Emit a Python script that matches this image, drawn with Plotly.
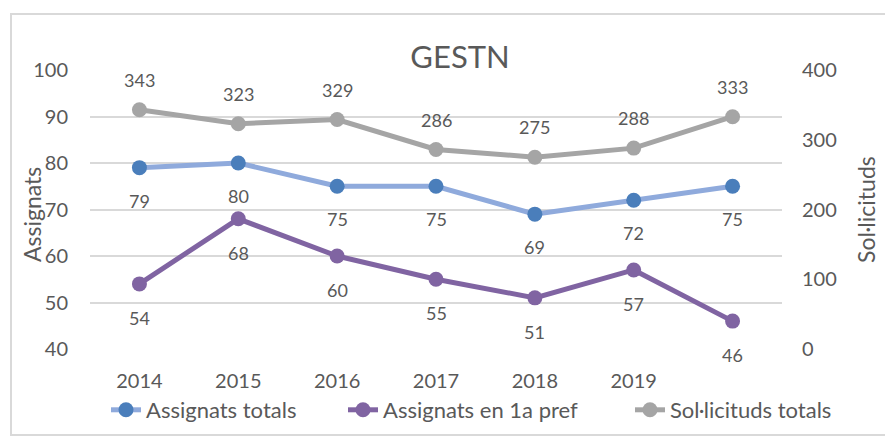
import plotly.graph_objects as go

categories = ["2014", "2015", "2016", "2017", "2018", "2019", ""]
assignats_totals = [79, 80, 75, 75, 69, 72, 75]
assignats_1a_pref = [54, 68, 60, 55, 51, 57, 46]
sollicituds_totals = [343, 323, 329, 286, 275, 288, 333]

x = list(range(len(categories)))
FONT = "Lato, 'Open Sans', sans-serif"
TXT = "#595959"

# page body has an 8px margin; lay out in figure coordinates
O = 8
W, H = 893 - O, 443 - O
L, T = 90 - O, 70 - O
R = W - (782 - O)
B = H - (349 - O)
pw, ph = W - L - R, H - T - B


def px(xi):
    return (xi - O - L) / pw


def py(yi):
    return (H - B - (yi - O)) / ph


fig = go.Figure()
fig.add_trace(go.Scatter(x=x, y=assignats_totals, name="Assignats totals", mode="lines+markers",
                         line=dict(color="#8FAADC", width=5), marker=dict(color="#4A7EBB", size=15),
                         legend="legend"))
fig.add_trace(go.Scatter(x=x, y=assignats_1a_pref, name="Assignats en 1a pref", mode="lines+markers",
                         line=dict(color="#8064A2", width=5), marker=dict(color="#8064A2", size=15),
                         legend="legend2"))
fig.add_trace(go.Scatter(x=x, y=sollicituds_totals, name="Sol·licituds totals", mode="lines+markers",
                         line=dict(color="#A5A5A5", width=5), marker=dict(color="#A5A5A5", size=15),
                         yaxis="y2", legend="legend3"))

annotations = []
for xi, v in zip(x, assignats_totals):
    annotations.append(dict(x=xi, y=v, xref="x", yref="y", text=str(v), showarrow=False, yshift=-33,
                            font=dict(size=18, color=TXT, family=FONT)))
for xi, v in zip(x, assignats_1a_pref):
    annotations.append(dict(x=xi, y=v, xref="x", yref="y", text=str(v), showarrow=False, yshift=-34,
                            font=dict(size=18, color=TXT, family=FONT)))
for xi, v in zip(x, sollicituds_totals):
    annotations.append(dict(x=xi, y=v, xref="x", yref="y2", text=str(v), showarrow=False, yshift=30,
                            font=dict(size=18, color=TXT, family=FONT)))

annotations.append(dict(text="Assignats", xref="paper", yref="paper", x=px(32), y=py(215),
                        textangle=-90, showarrow=False, xanchor="center", yanchor="middle",
                        font=dict(size=23, color=TXT, family=FONT)))
annotations.append(dict(text="Sol·licituds", xref="paper", yref="paper", x=px(866), y=py(210),
                        textangle=-90, showarrow=False, xanchor="center", yanchor="middle",
                        font=dict(size=23, color=TXT, family=FONT)))


def leg(text_start):
    return dict(orientation="h", x=px(text_start - 42), xanchor="left", y=py(410), yanchor="middle",
                font=dict(size=22, color=TXT, family=FONT), bgcolor="rgba(0,0,0,0)")


fig.update_layout(
    width=W, height=H,
    margin=dict(l=L, r=R, t=T, b=B),
    paper_bgcolor="white", plot_bgcolor="white",
    font=dict(family=FONT, color=TXT, size=20),
    title=dict(text="GESTN", x=(460 - O) / W, xanchor="center", y=1 - (57 - O) / H, yanchor="middle",
               font=dict(size=31, color=TXT, family=FONT)),
    xaxis=dict(tickmode="array", tickvals=x, ticktext=categories, range=[-0.5, 6.5],
               showgrid=False, zeroline=False, showline=False, ticks="",
               tickfont=dict(size=20, color=TXT), ticklabelstandoff=18),
    yaxis=dict(range=[40, 100], dtick=10, showgrid=True, gridcolor="#D9D9D9", gridwidth=2,
               zeroline=False, showline=False, ticks="", tickfont=dict(size=20, color=TXT),
               ticklabelstandoff=21),
    yaxis2=dict(range=[0, 400], dtick=100, overlaying="y", side="right", showgrid=False,
                zeroline=False, showline=False, ticks="", tickfont=dict(size=20, color=TXT),
                ticklabelstandoff=19),
    legend=leg(148),
    legend2=leg(385),
    legend3=leg(672),
    annotations=annotations,
    shapes=[dict(type="rect", xref="paper", yref="paper",
                 x0=px(11), x1=px(889), y0=py(435), y1=py(14),
                 line=dict(color="#D9D9D9", width=2), fillcolor="rgba(0,0,0,0)", layer="below")],
    showlegend=True,
)

fig.write_html("out.html")
